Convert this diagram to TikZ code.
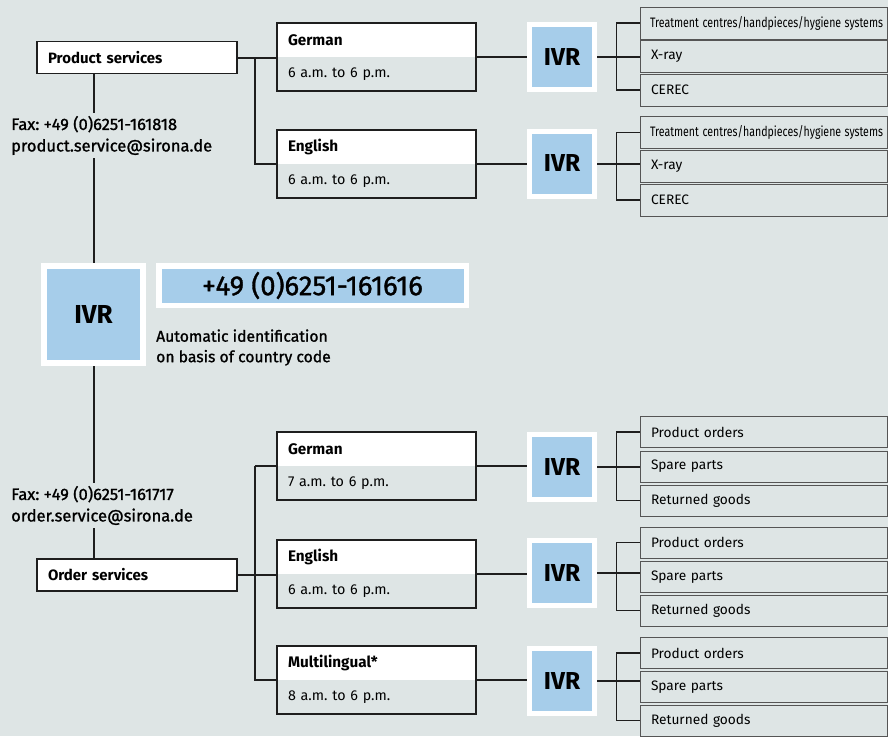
\documentclass[tikz,border=0pt]{standalone}
\usepackage{fontspec}
\usepackage{graphicx}
\setmainfont{Fira Sans}
\newfontfamily\medfont[FakeBold=1.2]{Fira Sans}
\definecolor{bgc}{RGB}{222,229,229}
\definecolor{bluec}{RGB}{166,205,234}
\definecolor{linec}{RGB}{30,30,30}
\definecolor{optc}{RGB}{85,85,85}
\frenchspacing
\begin{document}
\begin{tikzpicture}[x=1pt,y=-1pt,
  mainbox/.style={draw=linec, line width=1.8pt, fill=white, minimum width=200pt, minimum height=32pt,
    text width=178pt, align=left, inner xsep=11pt, inner ysep=0pt, font=\bfseries\fontsize{15}{17}\selectfont},
  langhead/.style={fill=white, minimum width=199pt, minimum height=34pt, text width=177pt, inner xsep=11pt,
    inner ysep=0pt, align=left, font=\bfseries\fontsize{15.3}{17}\selectfont},
  langhours/.style={fill=bgc, minimum width=199pt, minimum height=34pt, text width=177pt, inner xsep=11pt,
    inner ysep=0pt, align=left, font=\fontsize{14.3}{16}\selectfont},
  langframe/.style={draw=linec, line width=1.8pt},
  ivrbox/.style={fill=bluec, draw=white, line width=5pt, minimum width=65pt, minimum height=65pt,
    inner sep=0pt, font=\bfseries\fontsize{24.5}{27}\selectfont},
  optbox/.style={draw=optc, line width=0.8pt, minimum width=247pt, minimum height=32pt, text width=225pt,
    inner xsep=11pt, inner ysep=0pt, align=left, font=\fontsize{13.7}{16}\selectfont},
  infotext/.style={anchor=west, inner sep=0pt, minimum height=45pt, align=left,
    font=\medfont\fontsize{16.5}{21.5}\selectfont},
  conn/.style={draw=linec, line width=2pt},
  bracket/.style={draw=linec, line width=1.6pt}
]
\fill[bgc] (0,0) rectangle (888,736);
\useasboundingbox (0,0) rectangle (888,736);

% ---------- left column ----------
\node[mainbox] (ps) at (137,57.5) {Product services};
\node[infotext] (psinfo) at (11,135.5) {Fax: +49 (0)6251-161818\\product.service@sirona.de};
\node[ivrbox, minimum width=99pt, minimum height=97pt, line width=6pt, font=\bfseries\fontsize{26}{28}\selectfont] (ivr0) at (93.5,314.5) {IVR};
\node[fill=bluec, draw=white, line width=5.5pt, minimum width=307.5pt, minimum height=39.5pt, inner sep=0pt,
  font=\medfont\fontsize{27.5}{30}\selectfont] (phone) at (312.5,285.5) {+49 (0)6251-161616};
\node[anchor=west, inner sep=0pt, align=left, font=\medfont\fontsize{15.7}{20.5}\selectfont] (auto) at (156,347.5)
  {Automatic identification\\on basis of country code};
\node[infotext] (osinfo) at (11,505.5) {Fax: +49 (0)6251-161717\\order.service@sirona.de};
\node[mainbox] (os) at (137,575) {Order services};

\draw[conn] (ps.south -| ivr0.north) -- (psinfo.north -| ivr0.north);
\draw[conn] (psinfo.south -| ivr0.north) -- (ivr0.north);
\draw[conn] (ivr0.south) -- (osinfo.north -| ivr0.south);
\draw[conn] (osinfo.south -| ivr0.south) -- (os.north -| ivr0.south);

% ---------- language boxes ----------
\node[langhead]  (de1)  at (376.5,40)  {German};
\node[langhours] (de1h) at (376.5,74)  {6 a.m. to 6 p.m.};
\node[langhead]  (en1)  at (376.5,147) {English};
\node[langhours] (en1h) at (376.5,181) {6 a.m. to 6 p.m.};
\node[langhead]  (de2)  at (376.5,449) {German};
\node[langhours] (de2h) at (376.5,483) {7 a.m. to 6 p.m.};
\node[langhead]  (en2)  at (376.5,557) {English};
\node[langhours] (en2h) at (376.5,591) {6 a.m. to 6 p.m.};
\node[langhead]  (ml)   at (376.5,663) {Multilingual*};
\node[langhours] (mlh)  at (376.5,697) {8 a.m. to 6 p.m.};
\foreach \a/\b in {de1/de1h,en1/en1h,de2/de2h,en2/en2h,ml/mlh}
  \draw[langframe] (\a.north west) rectangle (\b.south east);

% left connectors to language boxes
\draw[conn] (ps.east) -- (ps.east -| de1.west);
\draw[conn] ([xshift=-22pt]de1.south west) |- (en1.south west);
\draw[conn] (os.east) -- (os.east -| en2.west);
\draw[conn] ([xshift=-22pt]de2.south west) |- (ml.south west);
\draw[conn] ([xshift=-22pt]de2.south west) -- (de2.south west);

% ---------- IVR boxes ----------
\node[ivrbox] (ivr1) at (562,57)    {IVR};
\node[ivrbox] (ivr2) at (562,163.5) {IVR};
\node[ivrbox] (ivr3) at (562,467)   {IVR};
\node[ivrbox] (ivr4) at (562,573)   {IVR};
\node[ivrbox] (ivr5) at (562,681)   {IVR};

\draw[conn] (de1.south east) -- (de1.south east -| ivr1.west);
\draw[conn] (en1.south east) -- (en1.south east -| ivr2.west);
\draw[conn] (de2.south east) -- (de2.south east -| ivr3.west);
\draw[conn] (en2.south east) -- (en2.south east -| ivr4.west);
\draw[conn] (ml.south east)  -- (ml.south east -| ivr5.west);

% ---------- option boxes ----------
\newcommand{\treat}{\resizebox{233pt}{\height}{Treatment centres/handpieces/hygiene systems}}
\node[optbox] (a1) at (763.5,23)   {\hspace*{-1pt}\treat};
\node[optbox] (a2) at (763.5,56.5) {X-ray};
\node[optbox] (a3) at (763.5,90)   {CEREC};
\node[optbox] (b1) at (763.5,132.5){\hspace*{-1pt}\treat};
\node[optbox] (b2) at (763.5,166.5){X-ray};
\node[optbox] (b3) at (763.5,200)  {CEREC};
\node[optbox, minimum height=31pt] (c1) at (763.5,432)   {Product orders};
\node[optbox, minimum height=31pt] (c2) at (763.5,466.5) {Spare parts};
\node[optbox, minimum height=31pt] (c3) at (763.5,500.5) {Returned goods};
\node[optbox, minimum height=31pt] (d1) at (763.5,542.5) {Product orders};
\node[optbox, minimum height=31pt] (d2) at (763.5,577)   {Spare parts};
\node[optbox, minimum height=31pt] (d3) at (763.5,610.5) {Returned goods};
\node[optbox, minimum height=31pt] (e1) at (763.5,653)   {Product orders};
\node[optbox, minimum height=31pt] (e2) at (763.5,687)   {Spare parts};
\node[optbox, minimum height=31pt] (e3) at (763.5,720.5) {Returned goods};

\foreach \i/\t/\m/\b in {ivr1/a1/a2/a3, ivr2/b1/b2/b3, ivr3/c1/c2/c3, ivr4/d1/d2/d3, ivr5/e1/e2/e3}{
  \draw[bracket] (\t.west) -- ++(-23,0) |- (\b.west);
  \draw[conn] (\i.east) -- (\i.east -| \m.west);
}
\end{tikzpicture}
\end{document}
